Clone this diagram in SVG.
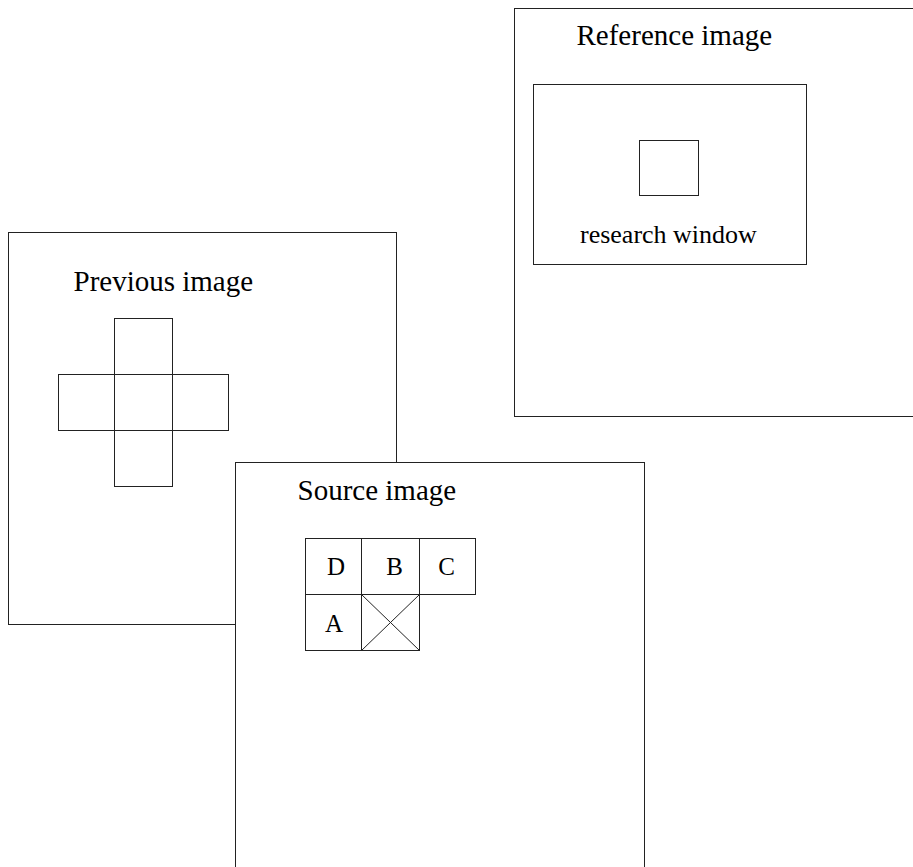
<svg xmlns="http://www.w3.org/2000/svg" width="913" height="867" viewBox="0 0 913 867">
  <style>
    .frame { fill: #ffffff; stroke: #222222; stroke-width: 1; }
    .cell { fill: none; stroke: #222222; stroke-width: 1; }
    .title { font-family: "Liberation Serif", "Times New Roman", serif; font-size: 29px; fill: #000000; }
    .label { font-family: "Liberation Serif", "Times New Roman", serif; font-size: 26px; fill: #000000; }
    .letter { font-family: "Liberation Serif", "Times New Roman", serif; font-size: 25px; fill: #000000; text-anchor: middle; }
  </style>
  <rect width="913" height="867" fill="#ffffff"/>

  <!-- Reference image panel with its research window -->
  <g id="reference-image">
    <rect class="frame" x="514.5" y="8.5" width="410" height="408"/>
    <text class="title" x="576.5" y="45">Reference image</text>
    <g id="research-window">
      <rect class="cell" x="533.5" y="84.5" width="273" height="180"/>
      <rect class="cell" x="639.5" y="140.5" width="59" height="55"/>
      <text class="label" x="580" y="243">research window</text>
    </g>
  </g>

  <!-- Previous image panel with cross-shaped neighbourhood -->
  <g id="previous-image">
    <rect class="frame" x="8.5" y="232.5" width="388" height="392"/>
    <text class="title" x="73.5" y="290.5">Previous image</text>
    <g id="cross">
      <rect class="cell" x="114.5" y="318.5" width="58" height="168"/>
      <rect class="cell" x="58.5" y="374.5" width="170" height="56"/>
    </g>
  </g>

  <!-- Source image panel with causal neighbours -->
  <g id="source-image">
    <rect class="frame" x="235.5" y="462.5" width="409" height="420"/>
    <text class="title" x="297.5" y="499.5">Source image</text>
    <g id="neighbours">
      <rect class="cell" x="305.5" y="538.5" width="56" height="56"/>
      <rect class="cell" x="361.5" y="538.5" width="58" height="56"/>
      <rect class="cell" x="419.5" y="538.5" width="56" height="56"/>
      <rect class="cell" x="305.5" y="594.5" width="56" height="56"/>
      <rect class="cell" x="361.5" y="594.5" width="58" height="56"/>
      <path class="cell" d="M361.5 594.5 L419.5 650.5 M419.5 594.5 L361.5 650.5"/>
      <text class="letter" x="336" y="575">D</text>
      <text class="letter" x="394.5" y="575">B</text>
      <text class="letter" x="446.5" y="575">C</text>
      <text class="letter" x="334" y="632">A</text>
    </g>
  </g>
</svg>
